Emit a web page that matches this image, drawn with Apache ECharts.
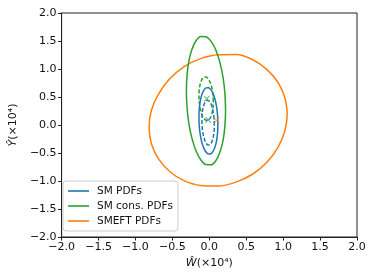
<!DOCTYPE html>
<html>
<head>
<meta charset="utf-8">
<script src="https://cdn.jsdelivr.net/npm/echarts@6/dist/echarts.min.js"></script>
<style>html,body{margin:0;padding:0;background:#fff}#c{width:374px;height:280px}</style>
</head>
<body>
<div id="c"></div>
<script>
// Tick values and labels
var tickValues = [-2.0, -1.5, -1.0, -0.5, 0.0, 0.5, 1.0, 1.5, 2.0];
var tickLabels = ['\u22122.0', '\u22121.5', '\u22121.0', '\u22120.5', '0.0', '0.5', '1.0', '1.5', '2.0'];

// Legend names
var legendNames = ['SM PDFs', 'SM cons. PDFs', 'SMEFT PDFs'];

// Contours: [W, Y] (x10^4); the last two points repeat the first two to close the loop
var smSolid = [[0.116,0.015],[0.112,0.170],[0.099,0.319],[0.079,0.452],[0.052,0.558],[0.021,0.631],[-0.012,0.667],[-0.045,0.663],[-0.076,0.618],[-0.103,0.536],[-0.123,0.423],[-0.136,0.286],[-0.140,0.135],[-0.136,-0.020],[-0.123,-0.169],[-0.103,-0.302],[-0.076,-0.408],[-0.045,-0.481],[-0.012,-0.517],[0.021,-0.513],[0.052,-0.468],[0.079,-0.386],[0.099,-0.273],[0.112,-0.136],[0.116,0.015],[0.112,0.170]];
var smDashed = [[0.068,0.000],[0.065,0.104],[0.057,0.204],[0.043,0.293],[0.026,0.365],[0.006,0.414],[-0.016,0.438],[-0.038,0.434],[-0.058,0.405],[-0.075,0.349],[-0.089,0.274],[-0.097,0.182],[-0.100,0.080],[-0.097,-0.024],[-0.089,-0.124],[-0.075,-0.213],[-0.058,-0.285],[-0.038,-0.334],[-0.016,-0.358],[0.006,-0.354],[0.026,-0.325],[0.043,-0.269],[0.057,-0.194],[0.065,-0.102],[0.068,0.000],[0.065,0.104]];
var consSolid = [[0.220,0.265],[0.211,0.567],[0.185,0.859],[0.142,1.122],[0.088,1.339],[0.024,1.494],[-0.045,1.577],[-0.114,1.582],[-0.178,1.509],[-0.232,1.362],[-0.275,1.153],[-0.301,0.895],[-0.310,0.605],[-0.301,0.303],[-0.275,0.011],[-0.232,-0.252],[-0.178,-0.469],[-0.114,-0.624],[-0.045,-0.707],[0.024,-0.712],[0.088,-0.639],[0.142,-0.492],[0.185,-0.283],[0.211,-0.025],[0.220,0.265],[0.211,0.567]];
var consDashed = [[0.054,0.420],[0.051,0.522],[0.041,0.620],[0.026,0.709],[0.006,0.780],[-0.018,0.831],[-0.043,0.857],[-0.068,0.857],[-0.092,0.830],[-0.112,0.779],[-0.127,0.707],[-0.137,0.618],[-0.140,0.520],[-0.137,0.418],[-0.127,0.320],[-0.112,0.231],[-0.092,0.160],[-0.068,0.109],[-0.043,0.083],[-0.018,0.083],[0.006,0.110],[0.026,0.161],[0.041,0.234],[0.051,0.322],[0.054,0.420],[0.051,0.522]];
var smeftSolid = [[1.055,0.20],[1.025,0.48],[0.935,0.75],[0.785,0.985],[0.59,1.165],[0.365,1.26],[0.12,1.255],[-0.12,1.185],[-0.345,1.04],[-0.54,0.82],[-0.69,0.545],[-0.785,0.26],[-0.815,-0.03],[-0.785,-0.33],[-0.69,-0.60],[-0.54,-0.825],[-0.35,-0.99],[-0.12,-1.08],[0.12,-1.09],[0.36,-1.02],[0.59,-0.875],[0.78,-0.665],[0.93,-0.40],[1.023,-0.108],[1.055,0.20],[1.025,0.48]];

// Best-fit points
var smBest = [[-0.015, 0.09]];
var consBest = [[-0.035, 0.47]];
var smeftBest = [[0.10, 0.085]];

var BLUE = '#1f77b4', GREEN = '#2ca02c', ORANGE = '#ff7f0e';
var FONT = 'DejaVu Sans';
var crossPath = 'path://M0,1 L1,0 L5,4 L9,0 L10,1 L6,5 L10,9 L9,10 L5,6 L1,10 L0,9 L4,5 Z';

function fmt(v) {
  for (var i = 0; i < tickValues.length; i++) {
    if (Math.abs(tickValues[i] - v) < 1e-9) return tickLabels[i];
  }
  return '';
}

function contour(name, data, color, dashed) {
  return {
    name: name, type: 'line', data: data, smooth: 0.33, showSymbol: false, symbol: 'none',
    lineStyle: { color: color, width: 1.5, type: dashed ? [4, 2] : 'solid' },
    itemStyle: { color: color }, silent: true, animation: false
  };
}
function marker(name, data, color) {
  return {
    name: name, type: 'scatter', data: data, symbol: crossPath, symbolSize: 6,
    itemStyle: { color: color }, silent: true, animation: false, z: 5
  };
}

var axisCommon = {
  type: 'value', min: -2, max: 2, interval: 0.5,
  axisLine: { show: true, onZero: false, lineStyle: { color: '#222', width: 1 } },
  axisTick: { show: true, inside: false, length: 3.5, lineStyle: { color: '#222', width: 1 } },
  splitLine: { show: false },
  axisLabel: { formatter: fmt, color: '#111', fontFamily: FONT, fontSize: 11, margin: 5 },
  nameLocation: 'middle',
  nameTextStyle: { color: '#111', fontFamily: FONT, fontSize: 11 }
};

var chart = echarts.init(document.getElementById('c'), null, { renderer: 'canvas' });
chart.setOption({
  backgroundColor: '#fff',
  animation: false,
  grid: { left: 58, right: 17, top: 13, bottom: 43, containLabel: false, show: true, borderColor: '#222', borderWidth: 1, backgroundColor: 'transparent' },
  xAxis: Object.assign({}, axisCommon, {
    name: '{i|\u0174}(\u00d710\u2074)', nameGap: 18,
    nameTextStyle: { color: '#111', fontFamily: FONT, fontSize: 11, rich: { i: { fontStyle: 'italic', fontFamily: FONT, fontSize: 11, color: '#111' } } }
  }),
  yAxis: Object.assign({}, axisCommon, {
    name: '{i|\u0176}(\u00d710\u2074)', nameGap: 36, nameRotate: 90,
    nameTextStyle: { color: '#111', fontFamily: FONT, fontSize: 11, rich: { i: { fontStyle: 'italic', fontFamily: FONT, fontSize: 11, color: '#111' } } }
  }),
  legend: {
    data: legendNames, orient: 'vertical', left: 63, top: 181,
    icon: 'rect', itemWidth: 21, itemHeight: 1.6, itemGap: 3,
    padding: [4, 5, 4, 5],
    backgroundColor: 'rgba(255,255,255,0.8)', borderColor: '#ccc', borderWidth: 1, borderRadius: 3,
    textStyle: { fontFamily: FONT, fontSize: 10.5, color: '#111', lineHeight: 12, padding: [0, 0, 0, 3] },
    selectedMode: false
  },
  series: [
    contour('SMEFT PDFs', smeftSolid, ORANGE, false),
    contour('SM cons. PDFs', consSolid, GREEN, false),
    contour('SM cons. dashed', consDashed, GREEN, true),
    contour('SM PDFs', smSolid, BLUE, false),
    contour('SM dashed', smDashed, BLUE, true),
    marker('SM best', smBest, BLUE),
    marker('cons best', consBest, GREEN),
    marker('SMEFT best', smeftBest, ORANGE)
  ]
});
</script>
</body>
</html>
